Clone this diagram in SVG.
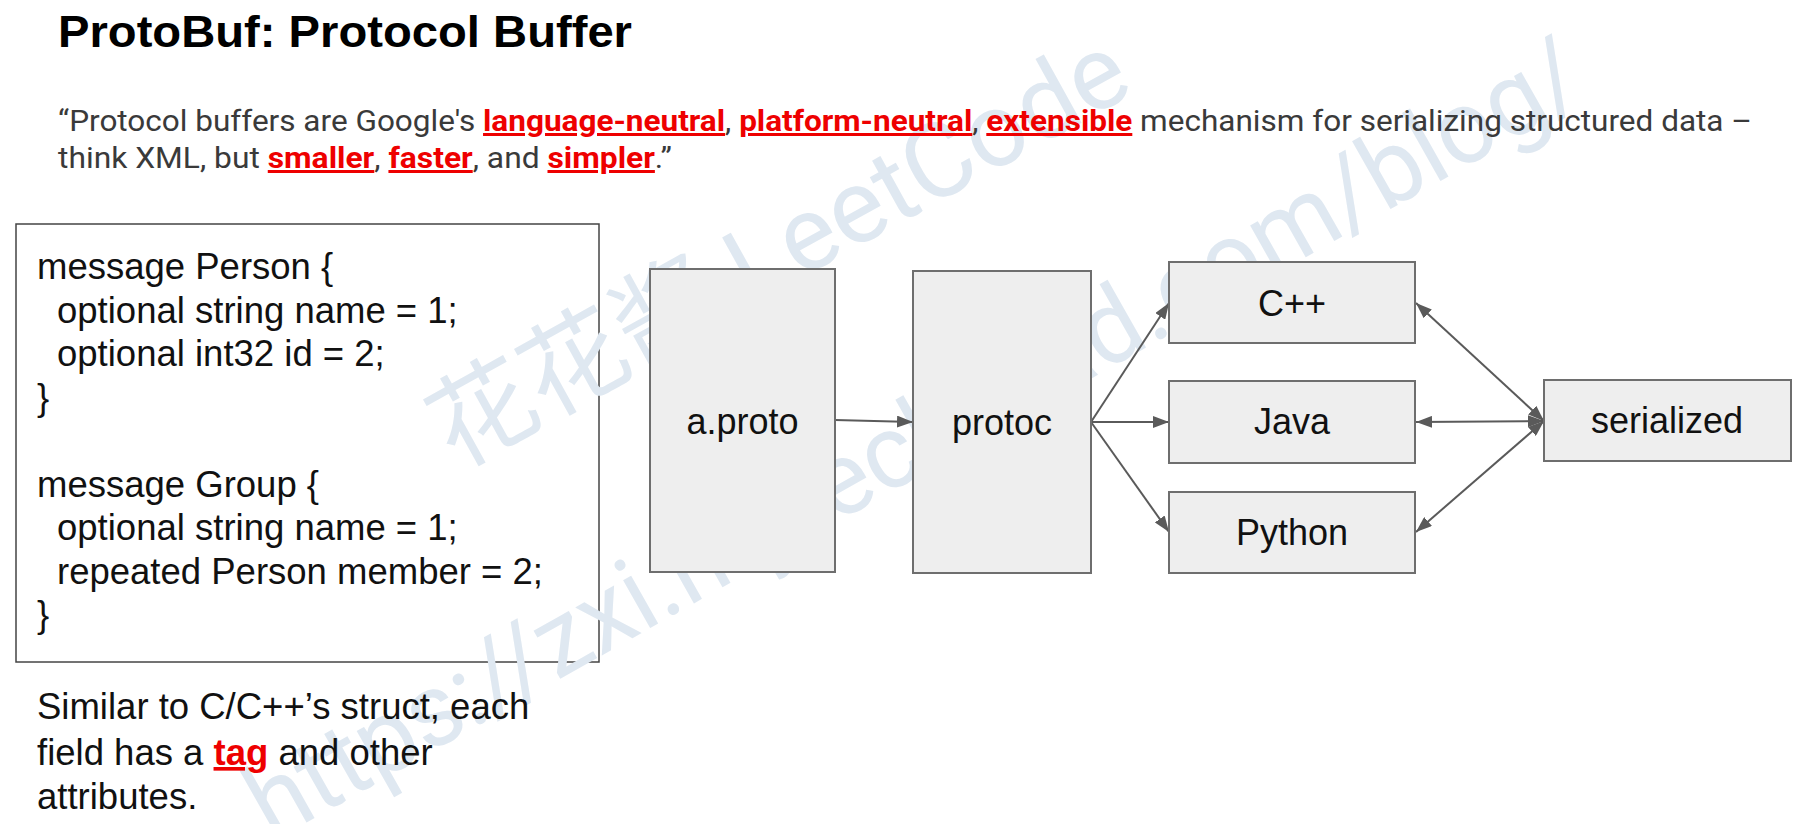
<svg xmlns="http://www.w3.org/2000/svg" width="1810" height="824" viewBox="0 0 1810 824">
<style>
.title{font-family:"Liberation Sans",Arial,sans-serif;font-weight:bold;font-size:44px;fill:#000}
.quote{font-family:Roboto,"Liberation Sans",sans-serif;font-size:30px;fill:#3a3a3a}
.hl{font-weight:bold;fill:#ee0000;text-decoration:underline}
.code{font-family:"Liberation Sans",Arial,sans-serif;font-size:36.5px;fill:#111}
.lbl{font-family:"Liberation Sans",Arial,sans-serif;font-size:36px;fill:#111;text-anchor:middle}
.box{fill:#eeeeee;stroke:#6e6e6e;stroke-width:2}
.conn{stroke:#5a5a5a;stroke-width:2;fill:none}
.wm{font-family:Roboto,"Noto Sans CJK SC",sans-serif;font-weight:400;fill:#dfe8f1}
</style>
<defs>
<marker id="ah" viewBox="0 0 16 12" refX="16" refY="6" markerWidth="16" markerHeight="12" markerUnits="userSpaceOnUse" orient="auto-start-reverse">
<path d="M0,0 L16,6 L0,12 z" fill="#5a5a5a"/>
</marker>
</defs>
<rect width="1810" height="824" fill="#ffffff"/>

<g id="code-box">
<rect x="16" y="224" width="583" height="438" fill="#ffffff" stroke="#444" stroke-width="1.5"/>
</g>

<g id="watermark">
<text class="wm" font-size="104" transform="translate(455,470) rotate(-29)">花花酱 LeetCode</text>
<text class="wm" font-size="104" transform="translate(272,842) rotate(-29.5)" textLength="1515" lengthAdjust="spacingAndGlyphs">https://zxi.mytechroad.com/blog/</text>
</g>

<g id="title">
<text class="title" x="58" y="47" textLength="574" lengthAdjust="spacingAndGlyphs">ProtoBuf: Protocol Buffer</text>
</g>

<g id="quote">
<text class="quote" x="58" y="131" textLength="1694" lengthAdjust="spacingAndGlyphs">“Protocol buffers are Google's <tspan class="hl">language-neutral</tspan>, <tspan class="hl">platform-neutral</tspan>, <tspan class="hl">extensible</tspan> mechanism for serializing structured data –</text>
<text class="quote" x="58" y="168" textLength="614" lengthAdjust="spacingAndGlyphs">think XML, but <tspan class="hl">smaller</tspan>, <tspan class="hl">faster</tspan>, and <tspan class="hl">simpler</tspan>.”</text>
</g>

<g id="code-text">
<text class="code" x="37" y="279">message Person {</text>
<text class="code" x="57" y="322.5">optional string name = 1;</text>
<text class="code" x="57" y="366">optional int32 id = 2;</text>
<text class="code" x="37" y="409.5">}</text>
<text class="code" x="37" y="496.5">message Group {</text>
<text class="code" x="57" y="540">optional string name = 1;</text>
<text class="code" x="57" y="583.5">repeated Person member = 2;</text>
<text class="code" x="37" y="627">}</text>
</g>

<g id="note">
<text class="code" x="37" y="719">Similar to C/C++’s struct, each</text>
<text class="code" x="37" y="765">field has a <tspan font-weight="bold" fill="#ee0000" text-decoration="underline">tag</tspan> and other</text>
<text class="code" x="37" y="809">attributes.</text>
</g>

<g id="connectors">
<line class="conn" x1="835" y1="420" x2="913" y2="422" marker-end="url(#ah)"/>
<line class="conn" x1="1091" y1="422" x2="1169" y2="303" marker-end="url(#ah)"/>
<line class="conn" x1="1091" y1="422" x2="1169" y2="422" marker-end="url(#ah)"/>
<line class="conn" x1="1091" y1="422" x2="1169" y2="532" marker-end="url(#ah)"/>
<line class="conn" x1="1416" y1="303" x2="1544" y2="421" marker-start="url(#ah)" marker-end="url(#ah)"/>
<line class="conn" x1="1416" y1="422" x2="1544" y2="421" marker-start="url(#ah)" marker-end="url(#ah)"/>
<line class="conn" x1="1416" y1="532" x2="1544" y2="421" marker-start="url(#ah)" marker-end="url(#ah)"/>
</g>

<g id="node-aproto">
<rect class="box" x="650" y="269" width="185" height="303"/>
<text class="lbl" x="742.5" y="434">a.proto</text>
</g>
<g id="node-protoc">
<rect class="box" x="913" y="271" width="178" height="302"/>
<text class="lbl" x="1002" y="435">protoc</text>
</g>
<g id="node-cpp">
<rect class="box" x="1169" y="262" width="246" height="81"/>
<text class="lbl" x="1292" y="316">C++</text>
</g>
<g id="node-java">
<rect class="box" x="1169" y="381" width="246" height="82"/>
<text class="lbl" x="1292" y="434">Java</text>
</g>
<g id="node-python">
<rect class="box" x="1169" y="492" width="246" height="81"/>
<text class="lbl" x="1292" y="545">Python</text>
</g>
<g id="node-serialized">
<rect class="box" x="1544" y="380" width="247" height="81"/>
<text class="lbl" x="1667" y="433">serialized</text>
</g>
</svg>
